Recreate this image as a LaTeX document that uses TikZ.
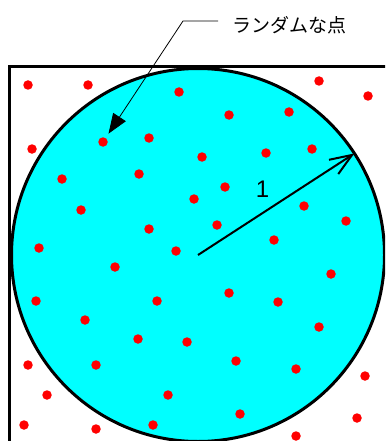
\documentclass[tikz,border=0pt]{standalone}
\usepackage{fontspec}
\setmainfont{Liberation Sans}
\newfontfamily\jpfont{Noto Sans CJK JP}
\usetikzlibrary{arrows.meta, positioning}
\definecolor{diskfill}{RGB}{0, 255, 255}
\definecolor{dotred}{RGB}{255, 0, 0}

\begin{document}
\begin{tikzpicture}[
			x=1pt, y=-1pt,
			sqframe/.style={draw=black, fill=white, line width=3pt},
			disk/.style={circle, draw=black, fill=diskfill, line width=3pt, minimum size=373pt, inner sep=0pt, outer sep=0pt},
			dot/.style={circle, fill=dotred, minimum size=9.5pt, inner sep=0pt},
			leader/.style={line width=0.8pt, -{Triangle[length=20pt, width=15pt]}, shorten >=5pt},
			radarrow/.style={line width=2pt, -{Straight Barb[length=22pt, width=17pt]}}
			]
			\useasboundingbox (0,0) rectangle (385,441);
			\clip (0,0) rectangle (385,441);
			
			% Square and circle
			\draw[sqframe] (9.5,66.5) rectangle (392,446);
			\node[disk] (disk) at (198,255) {};
			
			% Random points
			\foreach \px/\py [count=\i] in {103/142, 28/85, 88/85, 179/92, 319/81, 368/96, 149/138, 229/115, 289/112, 32/149,
				202/157, 266/153, 312/149, 62/179, 139/174, 225/187, 194/199, 81/210, 304/206, 149/229,
				217/225, 346/221, 39/248, 176/251, 274/240, 115/267, 331/274, 36/301, 157/301, 229/293,
				278/302, 85/320, 319/327, 138/339, 187/342, 28/365, 96/365, 236/361, 296/369, 365/376,
				47/395, 168/395, 24/425, 96/429, 153/425, 240/414, 357/418, 296/436}
				\node[dot] (p\i) at (\px,\py) {};
			
			% Radius
			\draw[radarrow] (disk.center) -- node[above left=6pt and 6pt, inner sep=0pt, font=\fontsize{24}{27}\selectfont] (one) {1} (disk.33);
			
			% Label
			\node[anchor=west, inner sep=0pt, font=\jpfont\fontsize{19}{22}\selectfont] (lbl) at (232,25) {ランダムな点};
			\coordinate (bend) at (183,21);
			\draw[leader] ([xshift=-14pt, yshift=4pt]lbl.west) -- (bend) -- (p1);
		\end{tikzpicture}
\end{document}
